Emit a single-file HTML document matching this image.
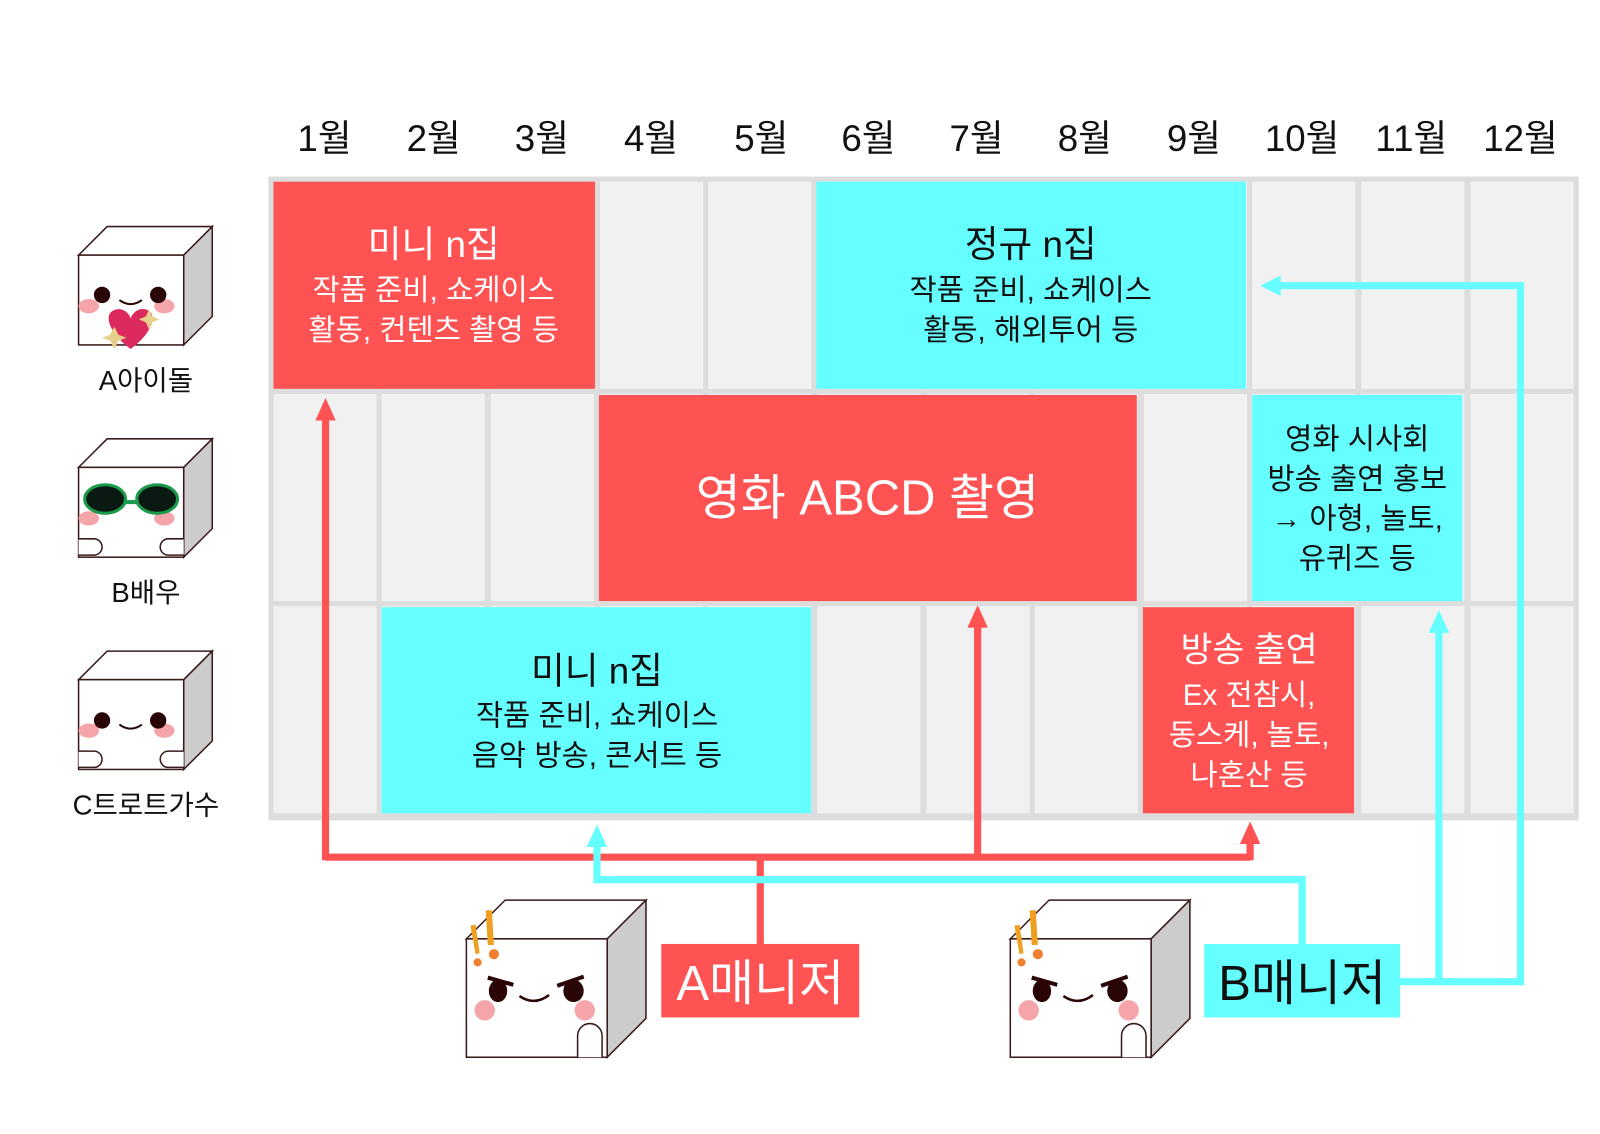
<!DOCTYPE html>
<html><head><meta charset="utf-8"><style>
html,body{margin:0;padding:0;background:#fff;overflow:hidden;width:1600px;height:1134px}
svg{display:block}
svg text{font-family:"Liberation Sans","Noto Sans CJK KR",sans-serif}
</style></head><body>
<svg width="1600" height="1134" viewBox="0 0 1600 1134" xmlns="http://www.w3.org/2000/svg">
<defs>
<g id="cube">
<path d="M0,28 L28,0 L131,0 L103,28 Z" fill="#fff" stroke="#3a1a1a" stroke-width="1.5"/>
<path d="M103,28 L131,0 L131,88 L103,116 Z" fill="#ccc" stroke="#3a1a1a" stroke-width="1.5"/>
<rect x="0" y="28" width="103" height="88" fill="#fff" stroke="#3a1a1a" stroke-width="1.5"/>
<ellipse cx="10" cy="78" rx="10" ry="7" fill="#f5a5aa"/>
<ellipse cx="84" cy="78" rx="10" ry="7" fill="#f5a5aa"/>
</g>
</defs>
<g transform="scale(1.0205)">
<g font-size="36" text-anchor="middle" fill="#111">
<text x="318" y="148">1월</text><text x="425" y="148">2월</text><text x="531" y="148">3월</text><text x="638" y="148">4월</text><text x="746" y="148">5월</text><text x="851" y="148">6월</text><text x="957" y="148">7월</text><text x="1063" y="148">8월</text><text x="1170" y="148">9월</text><text x="1276" y="148">10월</text><text x="1383" y="148">11월</text><text x="1490" y="148">12월</text>
</g>
<rect x="263" y="173" width="1284" height="631" fill="#ddd"/>
<g fill="#f1f1f1">
<g id="r1">
<rect x="268" y="178" width="101" height="203"/><rect x="374" y="178" width="101" height="203"/><rect x="481" y="178" width="101" height="203"/><rect x="588" y="178" width="101" height="203"/><rect x="694" y="178" width="101" height="203"/><rect x="801" y="178" width="101" height="203"/><rect x="908" y="178" width="101" height="203"/><rect x="1014" y="178" width="101" height="203"/><rect x="1121" y="178" width="101" height="203"/><rect x="1227" y="178" width="101" height="203"/><rect x="1334" y="178" width="101" height="203"/><rect x="1441" y="178" width="101" height="203"/>
</g>
<use href="#r1" y="208"/>
<use href="#r1" y="416"/>
</g>
<rect x="268" y="178" width="315" height="203" fill="#ff5252"/>
<rect x="800" y="178" width="421" height="203" fill="#66ffff"/>
<rect x="587" y="387" width="527" height="202" fill="#ff5252"/>
<rect x="1227" y="387" width="206" height="202" fill="#66ffff"/>
<rect x="374" y="595" width="421" height="202" fill="#66ffff"/>
<rect x="1120" y="595" width="207" height="202" fill="#ff5252"/>
<g text-anchor="middle">
<g fill="#fff"><text x="425" y="252" font-size="36">미니 n집</text><text x="425" y="294" font-size="29">작품 준비, 쇼케이스</text><text x="425" y="333" font-size="29">활동, 컨텐츠 촬영 등</text></g>
<g fill="#111"><text x="1010" y="252" font-size="36">정규 n집</text><text x="1010" y="294" font-size="29">작품 준비, 쇼케이스</text><text x="1010" y="333" font-size="29">활동, 해외투어 등</text></g>
<text x="850" y="504" font-size="48" fill="#fff">영화 ABCD 촬영</text>
<g fill="#111" font-size="29"><text x="1330" y="440">영화 시사회</text><text x="1330" y="479">방송 출연 홍보</text><text x="1330" y="518">→ 아형, 놀토,</text><text x="1330" y="557">유퀴즈 등</text></g>
<g fill="#111"><text x="585" y="670" font-size="36">미니 n집</text><text x="585" y="711" font-size="29">작품 준비, 쇼케이스</text><text x="585" y="750" font-size="29">음악 방송, 콘서트 등</text></g>
<g fill="#fff"><text x="1224" y="648" font-size="34">방송 출연</text><text x="1224" y="691" font-size="29">Ex 전참시,</text><text x="1224" y="730" font-size="29">동스케, 놀토,</text><text x="1224" y="769" font-size="29">나혼산 등</text></g>
</g>
<g stroke="#ff5252" stroke-width="7" fill="none">
<path d="M745,925 V840 M319,840 H1225 M319,843 V404 M958,843 V607 M1225,843 V817"/>
</g>
<g fill="#ff5252"><path d="M309,412 L319,390 L329,412Z"/><path d="M948,615 L958,593 L968,615Z"/><path d="M1215,827 L1225,805 L1235,827Z"/></g>
<g stroke="#66ffff" stroke-width="7" fill="none">
<path d="M585,820 V862 H1276 V925 M1371,962 H1490 V280 H1250 M1410,962 V612"/>
</g>
<g fill="#66ffff"><path d="M575,830 L585,808 L595,830Z"/><path d="M1400,620 L1410,598 L1420,620Z"/><path d="M1255,270 L1235,280 L1255,290Z"/></g>
<rect x="648" y="925" width="194" height="72" fill="#ff5252"/>
<text x="745" y="980" font-size="48" fill="#fff" text-anchor="middle">A매니저</text>
<rect x="1180" y="925" width="192" height="72" fill="#66ffff"/>
<text x="1276" y="980" font-size="48" fill="#111" text-anchor="middle">B매니저</text>
<use href="#cube" x="77" y="222"/>
<circle cx="100" cy="289" r="8" fill="#2a0505"/><circle cx="155" cy="289" r="8" fill="#2a0505"/>
<path d="M117,294 Q128,302 139,294" stroke="#2a0505" stroke-width="2" fill="none"/>
<path d="M128,342 C105,325 100,305 115,303 C122,302 127,308 128,312 C130,306 136,302 142,303 C156,306 150,326 128,342Z" fill="#dc2a5f"/>
<path d="M112,320 l4,8 l8,3 l-8,3 l-4,8 l-4,-8 l-8,-3 l8,-3Z M146,303 l3,7 l7,3 l-7,3 l-3,7 l-3,-7 l-7,-3 l7,-3Z" fill="#e8d08a"/>
<text x="143" y="382" font-size="27" text-anchor="middle" fill="#111">A아이돌</text>
<use href="#cube" x="77" y="430"/>
<ellipse cx="103" cy="489" rx="20" ry="14" fill="#0a1a12" stroke="#1a9a4a" stroke-width="3"/>
<ellipse cx="154" cy="489" rx="20" ry="14" fill="#0a1a12" stroke="#1a9a4a" stroke-width="3"/>
<path d="M122,492 H136" stroke="#1a9a4a" stroke-width="4"/>
<path d="M77,528 h15 a8,8 0 0 1 0,16 h-15 M180,528 h-15 a8,8 0 0 0 0,16 h15" stroke="#3a1a1a" stroke-width="1.5" fill="#fff"/>
<text x="143" y="590" font-size="27" text-anchor="middle" fill="#111">B배우</text>
<use href="#cube" x="77" y="638"/>
<circle cx="100" cy="706" r="8" fill="#2a0505"/><circle cx="155" cy="706" r="8" fill="#2a0505"/>
<path d="M117,710 Q128,718 139,710" stroke="#2a0505" stroke-width="2" fill="none"/>
<path d="M77,736 h15 a8,8 0 0 1 0,16 h-15 M180,736 h-15 a8,8 0 0 0 0,16 h15" stroke="#3a1a1a" stroke-width="1.5" fill="#fff"/>
<text x="143" y="798" font-size="27" text-anchor="middle" fill="#111">C트로트가수</text>
<g id="mgr">
<path d="M457,920 L495,882 L633,882 L595,920Z" fill="#fff" stroke="#3a1a1a" stroke-width="1.5"/>
<path d="M595,920 L633,882 L633,998 L595,1036Z" fill="#ccc" stroke="#3a1a1a" stroke-width="1.5"/>
<rect x="457" y="920" width="138" height="116" fill="#fff" stroke="#3a1a1a" stroke-width="1.5"/>
<ellipse cx="488" cy="971" rx="9" ry="11" fill="#2a0505"/><ellipse cx="562" cy="971" rx="10" ry="11" fill="#2a0505"/>
<path d="M478,958 L503,965 M572,957 L546,966" stroke="#2a0505" stroke-width="4"/>
<path d="M509,976 Q524,986 538,975" stroke="#2a0505" stroke-width="2.5" fill="none"/>
<circle cx="475" cy="990" r="10" fill="#f5a5aa"/><circle cx="573" cy="990" r="10" fill="#f5a5aa"/>
<path d="M566,1036 V1015 a12,12 0 0 1 24,0 V1036" fill="#fff" stroke="#3a1a1a" stroke-width="1.5"/>
<path d="M461,907 l5,-1 l4,28 l-4,1Z M476,892 l6,0 l2,34 l-6,0Z" fill="#f0a020"/>
<circle cx="468" cy="943" r="4" fill="#f08030"/><circle cx="484" cy="935" r="5" fill="#f08030"/>
</g>
<use href="#mgr" x="533"/>
</g>
</svg>
</body></html>
